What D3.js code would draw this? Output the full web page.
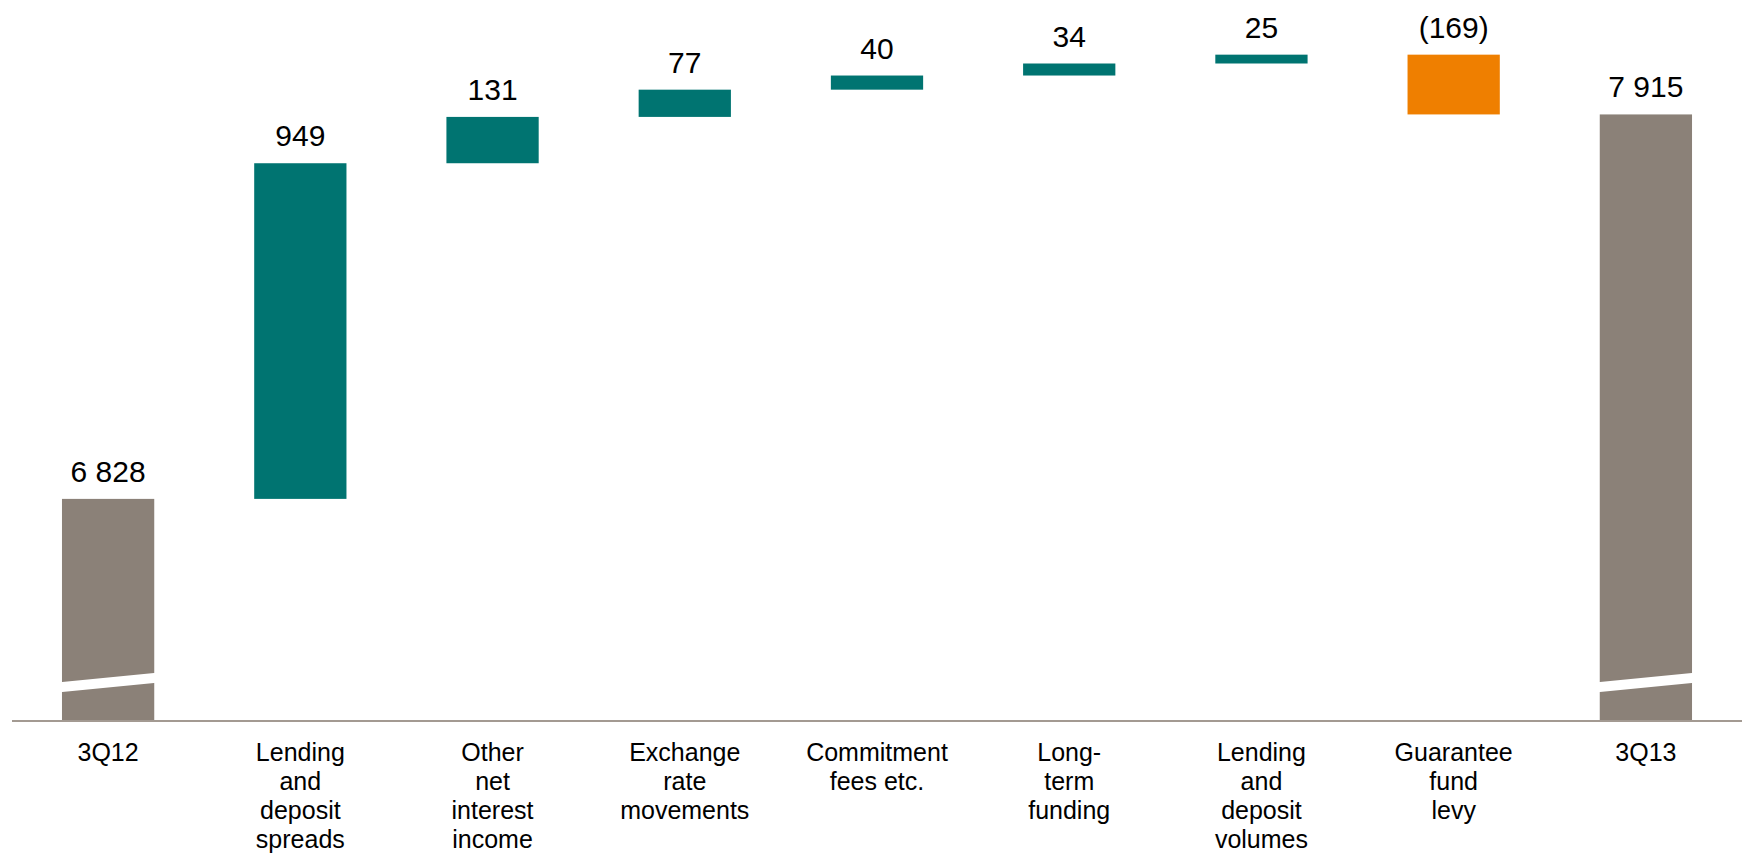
<!DOCTYPE html>
<html>
<head>
<meta charset="utf-8">
<script src="https://cdn.jsdelivr.net/npm/d3@7"></script>
<style>
  html, body { margin: 0; padding: 0; background: #fff; }
  svg { display: block; }
  text { font-family: "Liberation Sans", Arial, sans-serif; fill: #000; }
</style>
</head>
<body>
<svg id="chart" width="1742" height="859"></svg>
<script>
// Net interest income bridge, 3Q12 -> 3Q13
const categories = [
  ["3Q12"],
  ["Lending", "and", "deposit", "spreads"],
  ["Other", "net", "interest", "income"],
  ["Exchange", "rate", "movements"],
  ["Commitment", "fees etc."],
  ["Long-", "term", "funding"],
  ["Lending", "and", "deposit", "volumes"],
  ["Guarantee", "fund", "levy"],
  ["3Q13"]
];
// "total" steps are full bars; "delta" steps float on the running sum
const stepTypes = ["total", "delta", "delta", "delta", "delta", "delta", "delta", "delta", "total"];
const stepValues = [6828, 949, 131, 77, 40, 34, 25, -169, 7915];
// the value axis is cut: bars start at this value, marked with a break
const axisFloor = 6200;
const axisCeil = 8100;

const colors = { total: "#8b8178", up: "#007471", down: "#ef7f00", axis: "#a39a92" };

const svg = d3.select("#chart");

const x = d3.scaleBand()
  .domain(d3.range(categories.length))
  .range([12, 1742])
  .paddingInner(0.52)
  .paddingOuter(0.26);

const y = d3.scaleLinear().domain([axisFloor, axisCeil]).range([721, 49]);

// running sums for the bridge
let running = 0;
const steps = stepValues.map((v, i) => {
  let lo, hi;
  if (stepTypes[i] === "total") {
    lo = axisFloor; hi = v; running = v;
  } else {
    const start = running;
    running += v;
    lo = Math.min(start, running); hi = Math.max(start, running);
  }
  const fill = stepTypes[i] === "total" ? colors.total : (v >= 0 ? colors.up : colors.down);
  return { i, v, lo, hi, fill, type: stepTypes[i] };
});

const fmt = v => {
  const s = d3.format(",")(Math.abs(v)).replace(/,/g, " ");
  return v < 0 ? "(" + s + ")" : s;
};

// bars
svg.append("g").selectAll("rect")
  .data(steps)
  .join("rect")
  .attr("x", d => x(d.i))
  .attr("width", x.bandwidth())
  .attr("y", d => y(d.hi))
  .attr("height", d => y(d.lo) - y(d.hi))
  .attr("fill", d => d.fill);

// axis-break marks on the full bars
const bw = x.bandwidth();
svg.append("g").selectAll("path")
  .data(steps.filter(d => d.type === "total"))
  .join("path")
  .attr("fill", "#fff")
  .attr("d", d => {
    const x0 = x(d.i) - 10, x1 = x(d.i) + bw + 10;
    const yb = y(axisFloor);
    const yl = yb - 33, yr = yb - 44, h = 10;
    return `M${x0},${yl - h / 2}L${x1},${yr - h / 2}L${x1},${yr + h / 2}L${x0},${yl + h / 2}Z`;
  });

// baseline
svg.append("line")
  .attr("x1", x.range()[0]).attr("x2", x.range()[1])
  .attr("y1", y(axisFloor)).attr("y2", y(axisFloor))
  .attr("stroke", colors.axis).attr("stroke-width", 2);

// value labels
svg.append("g").selectAll("text")
  .data(steps)
  .join("text")
  .attr("x", d => x(d.i) + bw / 2)
  .attr("y", d => y(d.hi) - 17)
  .attr("text-anchor", "middle")
  .style("font-size", "30px")
  .text(d => fmt(d.v));

// category labels
const cat = svg.append("g").selectAll("text")
  .data(categories)
  .join("text")
  .attr("text-anchor", "middle")
  .attr("y", 761)
  .style("font-size", "25px");
cat.each(function (lines, i) {
  d3.select(this).selectAll("tspan")
    .data(lines)
    .join("tspan")
    .attr("x", x(i) + bw / 2)
    .attr("dy", (d, k) => k === 0 ? 0 : 29)
    .text(d => d);
});
</script>
</body>
</html>
